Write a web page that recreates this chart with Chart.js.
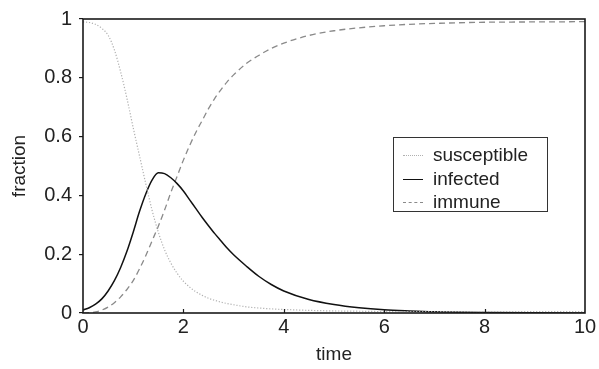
<!DOCTYPE html>
<html>
<head>
<meta charset="utf-8">
<script src="https://cdn.jsdelivr.net/npm/chart.js@4"></script>
<style>
html,body{margin:0;padding:0;background:#fff;}
#wrap{position:relative;width:599px;height:369px;overflow:hidden;}
#legend{position:absolute;left:393px;top:137px;width:155px;height:75px;border:1.2px solid #333;box-sizing:border-box;background:#fff;font-family:"Liberation Sans",Arial,sans-serif;font-size:19px;color:#222;}
.row{position:absolute;left:0;height:22px;line-height:22px;white-space:nowrap;}
.sample{position:absolute;left:9px;top:11px;width:20px;height:0;}
.lbl{position:absolute;left:39px;top:0;}
</style>
</head>
<body>
<div id="wrap">
<canvas id="c" width="599" height="369"></canvas>
<div id="legend"></div>
</div>
<script>
// ---- data ----
const times       = [0, 0.125, 0.25, 0.375, 0.5, 0.625, 0.75, 0.875, 1, 1.125, 1.25, 1.375, 1.5, 1.625, 1.75, 1.875, 2, 2.125, 2.25, 2.375, 2.5, 2.625, 2.75, 2.875, 3, 3.25, 3.5, 3.75, 4, 4.5, 5, 5.5, 6, 6.5, 7, 8, 9, 10];
const susceptible = [0.99, 0.988, 0.982, 0.968, 0.945, 0.895, 0.82, 0.73, 0.63, 0.535, 0.44, 0.35, 0.275, 0.215, 0.17, 0.135, 0.108, 0.088, 0.072, 0.06, 0.05, 0.043, 0.037, 0.032, 0.028, 0.021, 0.017, 0.014, 0.012, 0.009, 0.007, 0.006, 0.005, 0.005, 0.005, 0.005, 0.005, 0.005];
const infected    = [0.01, 0.018, 0.03, 0.048, 0.075, 0.11, 0.155, 0.21, 0.275, 0.345, 0.405, 0.452, 0.477, 0.474, 0.46, 0.44, 0.415, 0.385, 0.355, 0.325, 0.297, 0.27, 0.245, 0.22, 0.198, 0.16, 0.125, 0.097, 0.075, 0.046, 0.029, 0.018, 0.011, 0.007, 0.004, 0.0015, 0.0005, 0.0002];
const immune      = [0, 0.001, 0.004, 0.01, 0.02, 0.035, 0.055, 0.08, 0.11, 0.15, 0.195, 0.245, 0.295, 0.35, 0.41, 0.465, 0.52, 0.57, 0.615, 0.655, 0.695, 0.73, 0.76, 0.787, 0.81, 0.848, 0.876, 0.9, 0.918, 0.944, 0.96, 0.97, 0.977, 0.982, 0.985, 0.989, 0.99, 0.991];
const seriesNames = ["susceptible", "infected", "immune"];
const xTickValues = [0, 2, 4, 6, 8, 10];
const xTickLabels = ["0", "2", "4", "6", "8", "10"];
const yTickValues = [0, 0.2, 0.4, 0.6, 0.8, 1];
const yTickLabels = ["0", "0.2", "0.4", "0.6", "0.8", "1"];
const xTitle = "time";
const yTitle = "fraction";

const styles = [
  {color: "#b0b0b0", width: 1.2, dash: [1.2, 1.8], css: "border-top:1.2px dotted #b0b0b0;"},
  {color: "#111111", width: 1.5, dash: [], css: "border-top:1.5px solid #111;"},
  {color: "#8a8a8a", width: 1.3, dash: [6, 4], css: "border-top:1.3px dashed #8a8a8a;"}
];
const seriesValues = [susceptible, infected, immune];

const FONT = '"Liberation Sans", Arial, sans-serif';

const frame = {
  id: 'frame',
  afterDatasetsDraw(chart) {
    const {ctx, chartArea: a, scales: {x}} = chart;
    ctx.save();
    ctx.strokeStyle = '#1a1a1a';
    ctx.lineWidth = 1.6;
    ctx.strokeRect(a.left, a.top, a.right - a.left, a.bottom - a.top);
    ctx.beginPath();
    xTickValues.forEach(v => {
      if (v > xTickValues[0] && v < xTickValues[xTickValues.length - 1]) {
        const px = Math.round(x.getPixelForValue(v)) + 0.5;
        ctx.moveTo(px, a.bottom);
        ctx.lineTo(px, a.bottom - 4);
      }
    });
    ctx.lineWidth = 1.2;
    ctx.stroke();
    ctx.restore();
  }
};

new Chart(document.getElementById('c'), {
  type: 'line',
  data: {
    datasets: seriesNames.map((name, i) => ({
      label: name,
      data: times.map((t, j) => ({x: t, y: seriesValues[i][j]})),
      borderColor: styles[i].color,
      borderWidth: styles[i].width,
      borderDash: styles[i].dash,
      pointRadius: 0,
      fill: false,
      cubicInterpolationMode: 'monotone'
    }))
  },
  options: {
    responsive: false,
    animation: false,
    devicePixelRatio: 1,
    layout: {padding: {top: 18, right: 14, bottom: 0, left: 0}},
    plugins: {legend: {display: false}, tooltip: {enabled: false}},
    scales: {
      x: {
        type: 'linear', min: 0, max: 10,
        afterBuildTicks: s => { s.ticks = xTickValues.map(v => ({value: v})); },
        afterFit: s => { s.height = 56; },
        ticks: {
          callback: (v) => xTickLabels[xTickValues.indexOf(v)],
          font: {family: FONT, size: 20}, color: '#222', padding: 2, maxRotation: 0
        },
        grid: {drawOnChartArea: false, drawTicks: false},
        border: {display: false},
        title: {display: true, text: xTitle, font: {family: FONT, size: 19}, color: '#222', padding: {top: 0, bottom: 3}}
      },
      y: {
        min: 0, max: 1,
        afterBuildTicks: s => { s.ticks = yTickValues.map(v => ({value: v})); },
        afterFit: s => { s.width = 83; },
        ticks: {
          callback: (v) => yTickLabels[yTickValues.indexOf(v)],
          font: {family: FONT, size: 20}, color: '#222', padding: 7
        },
        grid: {drawOnChartArea: false, drawTicks: true, tickLength: 4, color: '#1a1a1a', lineWidth: 1.2},
        border: {display: false},
        title: {display: true, text: yTitle, font: {family: FONT, size: 19}, color: '#222', padding: {top: 8, bottom: 0}}
      }
    }
  },
  plugins: [frame]
});

// HTML legend (real text)
const lg = document.getElementById('legend');
const rowTops = [6, 30, 53];
seriesNames.forEach((name, i) => {
  const r = document.createElement('div');
  r.className = 'row';
  r.style.top = rowTops[i] + 'px';
  r.innerHTML = '<span class="sample" style="' + styles[i].css + '"></span><span class="lbl">' + name + '</span>';
  lg.appendChild(r);
});
</script>
</body>
</html>
